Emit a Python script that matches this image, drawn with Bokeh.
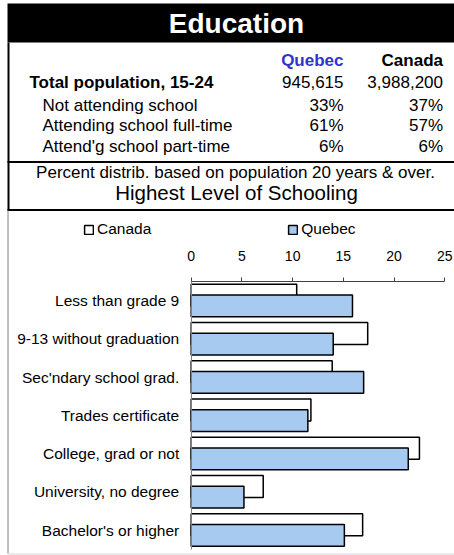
from bokeh.plotting import figure
from bokeh.models import Range1d, LinearAxis, FixedTicker, Legend, LegendItem, ColumnDataSource
from bokeh.core.properties import value
from bokeh.transform import dodge
from bokeh.embed import file_html
from bokeh.resources import INLINE

FONT_NAME = "Liberation Sans"
FONT = value(FONT_NAME)

# ---------------- data ----------------
title = "Education"
col_heads = ["Quebec", "Canada"]
row_labels = ["Total population, 15-24", "Not attending school",
              "Attending school full-time", "Attend'g school part-time"]
quebec_stats = ["945,615", "33%", "61%", "6%"]
canada_stats = ["3,988,200", "37%", "57%", "6%"]
note = "Percent distrib. based on population 20 years & over."
chart_title = "Highest Level of Schooling"

categories = ["Less than grade 9", "9-13 without graduation", "Sec'ndary school grad.",
              "Trades certificate", "College, grad or not", "University, no degree",
              "Bachelor's or higher"]
canada = [10.4, 17.4, 13.9, 11.8, 22.5, 7.1, 16.9]
quebec = [15.9, 14.0, 17.0, 11.5, 21.4, 5.2, 15.1]
x_ticks = [0, 5, 10, 15, 20, 25]

# ---------------- layout (page pixels) ----------------
W, H = 454, 555
X0_PX, PX_PER_UNIT = 190.7, 10.144
Y0_PX, PX_PER_CAT = 281.0, 38.25
BX = 7  # left edge of the framed box

x_range = Range1d(-X0_PX / PX_PER_UNIT, (W - X0_PX) / PX_PER_UNIT)
y_top = -0.5 - Y0_PX / PX_PER_CAT
y_bot = -0.5 + (H - Y0_PX) / PX_PER_CAT
y_range = Range1d(start=y_bot, end=y_top)

p = figure(width=W, height=H, x_range=x_range, y_range=y_range,
           x_axis_type=None, y_axis_type=None,
           toolbar_location=None, output_backend="svg", min_border=0)
p.outline_line_color = None
p.background_fill_color = "white"
p.border_fill_color = "white"
p.extra_x_ranges = {"px": Range1d(0, W)}
p.extra_y_ranges = {"px": Range1d(H, 0)}
PX = dict(x_range_name="px", y_range_name="px")

# ---------------- header decorations ----------------
p.quad(left=[BX], right=[W], top=[3], bottom=[42], fill_color="black",
       line_color=None, **PX)
p.quad(left=[BX], right=[BX + 2], top=[42], bottom=[210], fill_color="black",
       line_color=None, **PX)
p.segment(x0=[BX, BX], y0=[161.5, 209.5], x1=[W, W], y1=[161.5, 209.5],
          line_color="black", line_width=2, **PX)
p.segment(x0=[BX + 0.5], y0=[210], x1=[BX + 0.5], y1=[553], line_color="#808080",
          line_width=1, **PX)
p.segment(x0=[BX], y0=[553.5], x1=[W], y1=[553.5], line_color="#d4d4d4",
          line_width=1, **PX)

def txt(x, y, t, size, align="left", bold=False, color="black"):
    # y = desired baseline (page px); the renderer sits ~0.34em lower, compensate
    shift = 0.34 * size
    p.text(x=x, y=[v - shift for v in y], text=t, text_align=align,
           text_baseline="alphabetic", text_font=FONT, text_font_size=f"{size}px",
           text_font_style="bold" if bold else "normal", text_color=color, **PX)

txt([236], [33], [title], 28, align="center", bold=True, color="white")
txt([343, 442.5], [66, 66], col_heads, 17, align="right", bold=True,
    color=["#3333CC", "black"])
txt([29], [87.3], row_labels[:1], 17, bold=True)
txt([42, 42, 42], [110.7, 130.7, 151.7], row_labels[1:], 17)
txt([343] * 4, [87.3, 110.7, 130.7, 151.7], quebec_stats, 17, align="right")
txt([442.5] * 4, [87.3, 110.7, 130.7, 151.7], canada_stats, 17, align="right")
txt([235], [178], [note], 17, align="center")
txt([236], [199.3], [chart_title], 20.5, align="center")

# ---------------- bars ----------------
src = ColumnDataSource(dict(cat=categories, pos=list(range(len(categories))),
                            canada=canada, quebec=quebec))
r_can = p.hbar(y=dodge("pos", -0.14), left=0, right="canada", height=0.57, source=src,
               fill_color="white", line_color="black", line_width=1.5)
r_que = p.hbar(y=dodge("pos", 0.135), left=0, right="quebec", height=0.57, source=src,
               fill_color="#A6CAF0", line_color="black", line_width=1.5)

# ---------------- axes ----------------
xaxis = LinearAxis(fixed_location=-0.5, bounds=(0, 25), ticker=FixedTicker(ticks=x_ticks),
                   major_tick_out=4, major_tick_in=0, minor_tick_out=0, minor_tick_in=0,
                   major_label_standoff=17, major_label_text_font=FONT_NAME,
                   major_label_text_font_size="14px", major_label_text_color="black",
                   axis_line_color="#404040", major_tick_line_color="#404040")
p.add_layout(xaxis, "above")

yaxis = LinearAxis(fixed_location=0, bounds=(-0.5, len(categories) - 0.5),
                   ticker=FixedTicker(ticks=list(range(len(categories)))),
                   major_label_overrides={i: c for i, c in enumerate(categories)},
                   major_tick_out=0, major_tick_in=0, minor_tick_out=0, minor_tick_in=0,
                   major_label_standoff=12, major_label_text_font=FONT_NAME,
                   major_label_text_font_size="15.5px", major_label_text_color="black",
                   axis_line_color="#808080")
p.add_layout(yaxis, "left")

legend = Legend(items=[LegendItem(label="Canada", renderers=[r_can]),
                       LegendItem(label="Quebec", renderers=[r_que])],
                orientation="horizontal", location=(83, 316),
                glyph_width=11, glyph_height=11, label_standoff=3, spacing=136,
                padding=0, margin=0, border_line_color=None, background_fill_alpha=0,
                label_text_font=FONT_NAME, label_text_font_size="15.5px",
                label_text_color="black", label_height=20)
p.add_layout(legend)

open("out.html", "w").write(file_html(p, INLINE))
